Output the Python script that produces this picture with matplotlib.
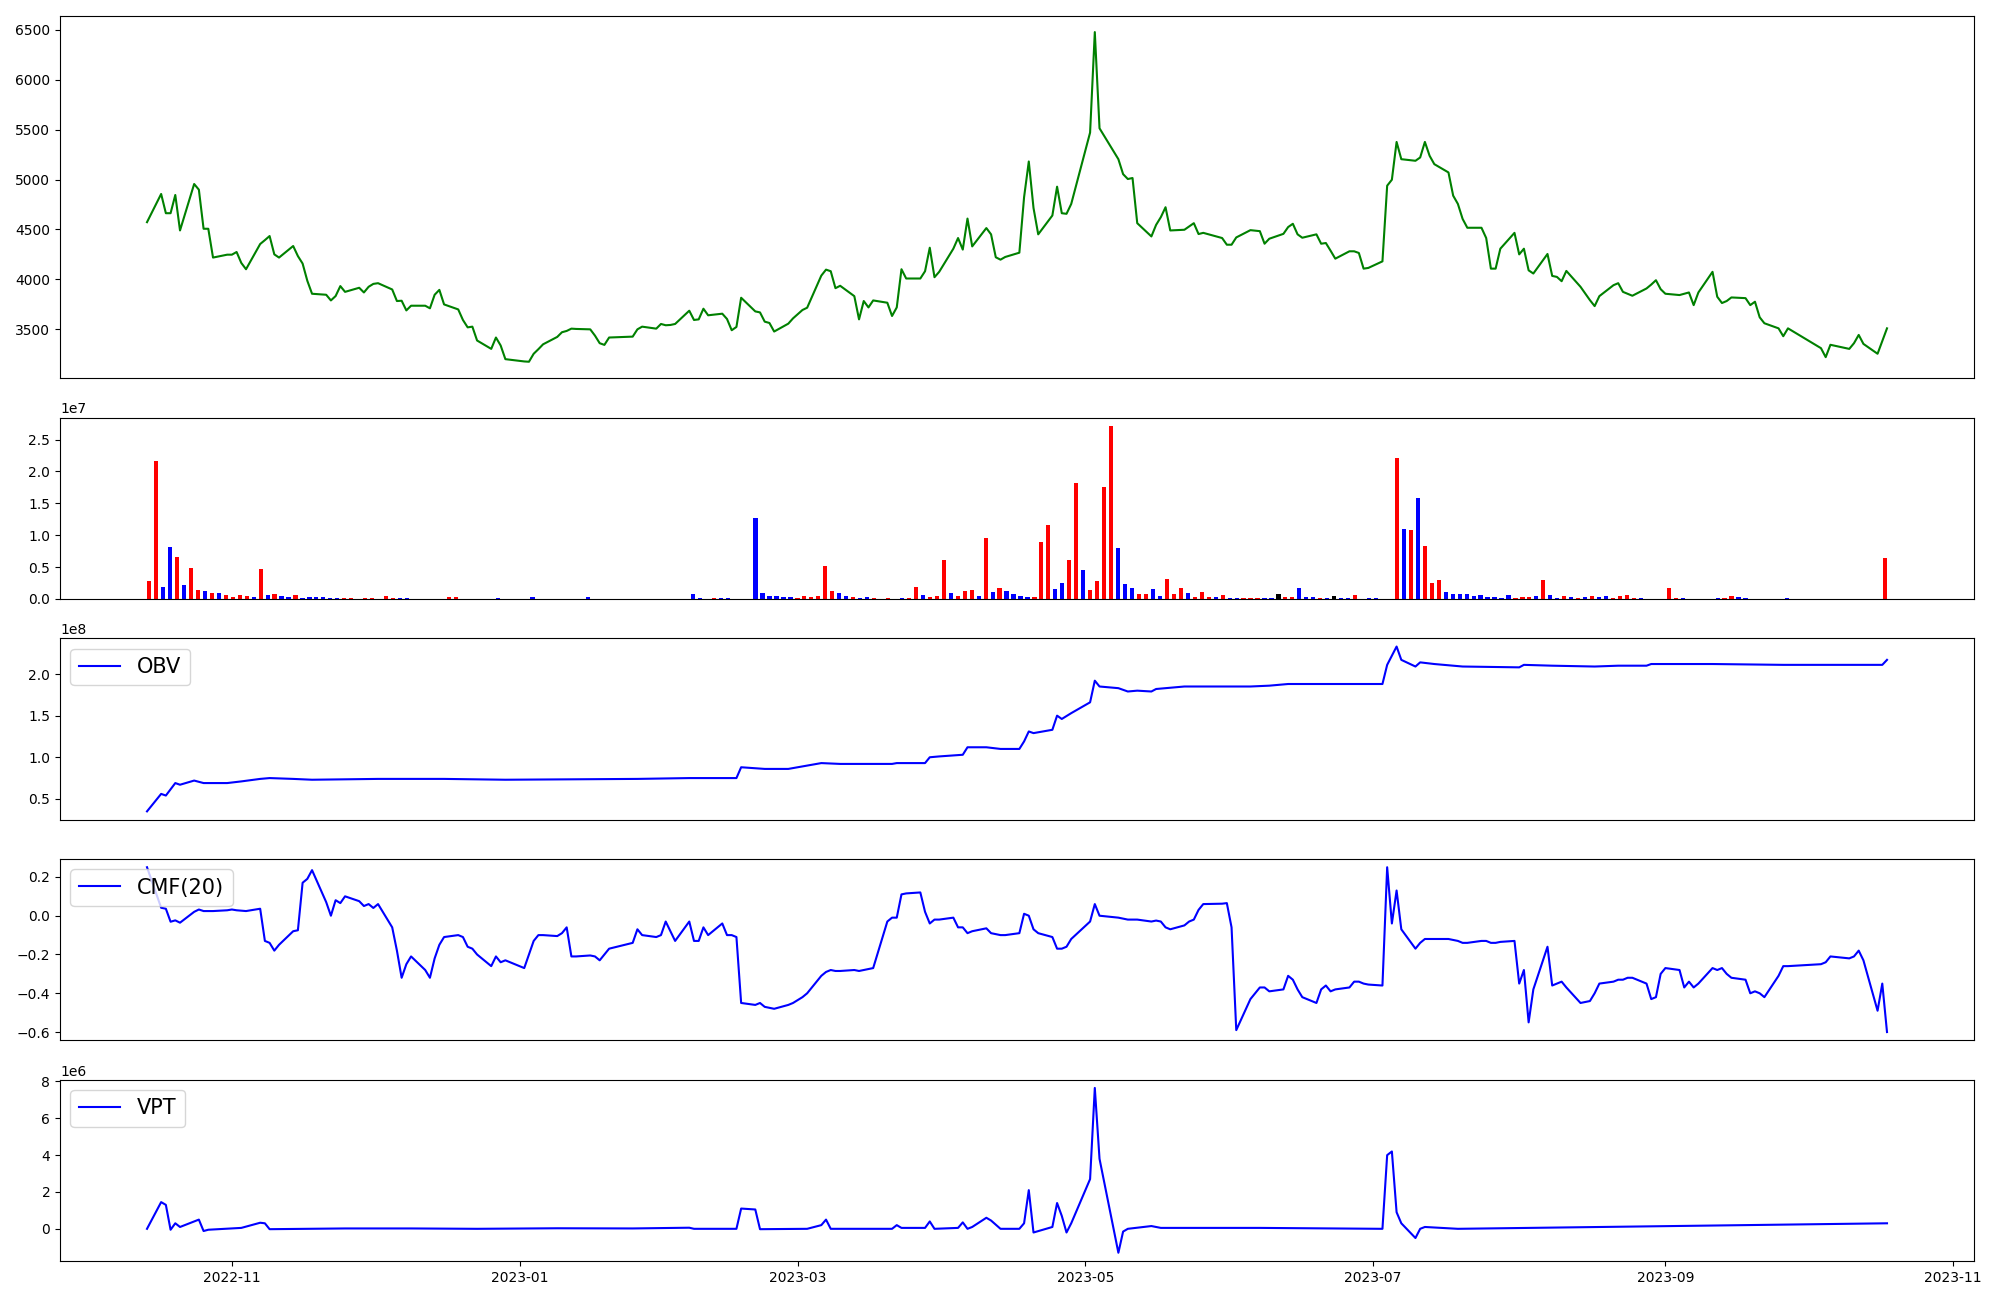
import numpy as np
import pandas as pd
import matplotlib
matplotlib.use('Agg')
import matplotlib.pyplot as plt
import matplotlib.dates as mdates

# 交易日历（去掉休市日）
holidays = ['2022-12-30', '2023-01-23', '2023-01-24', '2023-03-01', '2023-05-01',
            '2023-05-05', '2023-05-29', '2023-06-06', '2023-08-15', '2023-09-28',
            '2023-09-29', '2023-10-02', '2023-10-03', '2023-10-09']
dates = pd.bdate_range('2022-10-14', '2023-10-18')
dates = dates[~dates.isin(pd.to_datetime(holidays))]

close = [
    4572, 4855, 4662, 4662, 4845, 4489, 4955, 4898, 4506, 4506,
    4217, 4246, 4246, 4273, 4163, 4100, 4353, 4392, 4433, 4249,
    4217, 4333, 4232, 4157, 3984, 3854, 3844, 3787, 3831, 3931,
    3873, 3914, 3867, 3924, 3953, 3960, 3897, 3781, 3784, 3687,
    3734, 3734, 3708, 3844, 3893, 3747, 3697, 3591, 3517, 3524,
    3385, 3301, 3415, 3335, 3198, 3175, 3172, 3252, 3298, 3347,
    3421, 3468, 3481, 3504, 3501, 3497, 3434, 3358, 3341, 3415,
    3424, 3497, 3524, 3504, 3551, 3538, 3541, 3551, 3684, 3591,
    3597, 3704, 3638, 3654, 3601, 3488, 3521, 3814, 3677, 3667,
    3574, 3561, 3475, 3554, 3607, 3691, 3714, 4036, 4096, 4080,
    3910, 3934, 3830, 3597, 3781, 3717, 3787, 3764, 3631, 3717,
    4100, 4007, 4007, 4080, 4316, 4020, 4074, 4306, 4413, 4297,
    4608, 4329, 4513, 4450, 4220, 4196, 4223, 4266, 4822, 5181,
    4715, 4450, 4639, 4928, 4662, 4656, 4755, 5471, 6479, 5514,
    5204, 5054, 5005, 5015, 4562, 4429, 4545, 4622, 4722, 4489,
    4496, 4529, 4562, 4453, 4465, 4413, 4346, 4346, 4419, 4492,
    4482, 4356, 4406, 4455, 4523, 4556, 4450, 4416, 4450, 4356,
    4363, 4286, 4206, 4280, 4280, 4263, 4106, 4113, 4179, 4938,
    4998, 5377, 5204, 5188, 5221, 5377, 5238, 5154, 5071, 4838,
    4755, 4605, 4516, 4516, 4413, 4106, 4106, 4306, 4465, 4249,
    4306, 4089, 4057, 4253, 4033, 4023, 3980, 4083, 3924, 3790,
    3730, 3830, 3940, 3960, 3873, 3854, 3834, 3907, 3946, 3990,
    3900, 3854, 3841, 3854, 3867, 3740, 3867, 4074, 3824, 3761,
    3781, 3817, 3810, 3740, 3774, 3618, 3558, 3507, 3428, 3507,
    3308, 3218, 3342, 3301, 3358, 3441, 3351, 3252, 3381, 3507,
]

# 成交量（百万）
volume_m = [
    2.8, 21.6, 1.9, 8.2, 6.6, 2.2, 4.8, 1.4, 1.3, 0.95,
    0.95, 0.63, 0.3, 0.63, 0.47, 0.3, 4.7, 0.63, 0.8, 0.47,
    0.3, 0.63, 0.16, 0.3, 0.3, 0.3, 0.16, 0.16, 0.16, 0.16,
    0.03, 0.16, 0.16, 0.03, 0.47, 0.16, 0.16, 0.16, 0.02, 0.02,
    0.02, 0.02, 0.02, 0.3, 0.3, 0.02, 0.02, 0.02, 0.02, 0.02,
    0.16, 0.02, 0.02, 0.02, 0.02, 0.3, 0.02, 0.02, 0.02, 0.02,
    0.02, 0.02, 0.02, 0.3, 0.02, 0.02, 0.02, 0.02, 0.02, 0.02,
    0.02, 0.02, 0.02, 0.02, 0.02, 0.02, 0.02, 0.02, 0.8, 0.16,
    0.02, 0.16, 0.16, 0.16, 0.02, 0.02, 0.02, 12.7, 0.95, 0.47,
    0.47, 0.3, 0.3, 0.16, 0.47, 0.3, 0.47, 5.2, 1.25, 0.95,
    0.47, 0.3, 0.16, 0.3, 0.16, 0.02, 0.16, 0.02, 0.16, 0.16,
    1.88, 0.63, 0.3, 0.47, 6.1, 0.95, 0.47, 1.25, 1.4, 0.47,
    9.6, 1.1, 1.7, 1.25, 0.8, 0.47, 0.3, 0.3, 8.9, 11.6,
    1.57, 2.5, 6.1, 18.2, 4.5, 1.4, 2.8, 17.6, 27.1, 8.0,
    2.35, 1.7, 0.8, 0.8, 1.57, 0.47, 3.1, 0.8, 1.7, 0.95,
    0.3, 1.1, 0.3, 0.3, 0.63, 0.16, 0.16, 0.16, 0.16, 0.16,
    0.16, 0.16, 0.8, 0.3, 0.3, 1.7, 0.3, 0.3, 0.16, 0.16,
    0.47, 0.16, 0.16, 0.63, 0.02, 0.16, 0.16, 0.02, 0.02, 22.1,
    11.0, 10.8, 15.8, 8.3, 2.5, 3.0, 1.1, 0.8, 0.8, 0.8,
    0.47, 0.63, 0.3, 0.3, 0.16, 0.63, 0.16, 0.3, 0.3, 0.47,
    3.0, 0.63, 0.16, 0.47, 0.3, 0.16, 0.3, 0.47, 0.3, 0.47,
    0.16, 0.47, 0.63, 0.16, 0.16, 0.02, 0.02, 0.02, 1.7, 0.16,
    0.16, 0.02, 0.02, 0.02, 0.02, 0.16, 0.16, 0.47, 0.3, 0.16,
    0.02, 0.02, 0.02, 0.02, 0.02, 0.16, 0.02, 0.02, 0.02, 0.02,
    0.02, 0.02, 0.02, 0.02, 0.02, 0.02, 0.02, 0.02, 0.02, 6.4,
]

# r=涨 b=跌 k=平
volume_side = (
    'rrbbrbrrbr' 'brrrrbrbrb' 'brbbbbbbrr' 'rrrrrrbbrb' 'rbrrrbbbbb'
    'bbbbbbbbbb' 'bbbbbbbbbb' 'bbbbbbbbbb' 'brbbbbbbbb' 'bbbrrrrrrb'
    'brbbrrrbbr' 'rbrrrbrrrb' 'rbrbbbbrrr' 'bbrrbrrrrb' 'bbrrbbrrrb'
    'rrrbrbbrrr' 'bbkrrbbbrb' 'kbbrrbbbbr' 'brbrrrbbbb' 'bbbbbbrrrb'
    'rbbrbrbrbb' 'rrrrbbbbrr' 'bbbbbbrrbb' 'bbbbbbbbbb' 'bbbbbbbbbr'
)

cmf = [
    0.25, 0.041, 0.036, -0.031, -0.024, -0.036, 0.02, 0.032, 0.024, 0.024,
    0.024, 0.028, 0.032, 0.028, 0.026, 0.024, 0.036, -0.13, -0.14, -0.18,
    -0.15, -0.08, -0.075, 0.17, 0.19, 0.235, 0.07, 0.0, 0.08, 0.065,
    0.1, 0.075, 0.05, 0.06, 0.04, 0.06, -0.06, -0.18, -0.32, -0.25,
    -0.21, -0.28, -0.32, -0.22, -0.15, -0.11, -0.10, -0.11, -0.16, -0.17,
    -0.20, -0.26, -0.21, -0.24, -0.23, -0.27, -0.20, -0.13, -0.10, -0.10,
    -0.105, -0.09, -0.06, -0.21, -0.21, -0.205, -0.21, -0.23, -0.20, -0.17,
    -0.14, -0.07, -0.10, -0.11, -0.10, -0.03, -0.08, -0.13, -0.03, -0.13,
    -0.13, -0.06, -0.10, -0.04, -0.10, -0.10, -0.11, -0.45, -0.46, -0.45,
    -0.47, -0.475, -0.48, -0.46, -0.45, -0.42, -0.40, -0.31, -0.29, -0.28,
    -0.285, -0.285, -0.28, -0.285, -0.28, -0.275, -0.27, -0.03, -0.01, -0.01,
    0.11, 0.115, 0.12, 0.02, -0.04, -0.02, -0.02, -0.01, -0.06, -0.06,
    -0.09, -0.08, -0.065, -0.09, -0.095, -0.10, -0.10, -0.09, 0.01, 0.0,
    -0.07, -0.09, -0.11, -0.17, -0.17, -0.16, -0.12, -0.03, 0.06, 0.0,
    -0.01, -0.015, -0.02, -0.02, -0.02, -0.03, -0.025, -0.03, -0.06, -0.07,
    -0.05, -0.03, -0.02, 0.03, 0.06, 0.062, 0.065, -0.06, -0.59, -0.43,
    -0.37, -0.37, -0.39, -0.38, -0.31, -0.33, -0.38, -0.42, -0.45, -0.38,
    -0.36, -0.39, -0.38, -0.37, -0.34, -0.34, -0.35, -0.355, -0.36, 0.25,
    -0.04, 0.13, -0.07, -0.17, -0.14, -0.12, -0.12, -0.12, -0.12, -0.125,
    -0.13, -0.14, -0.14, -0.13, -0.13, -0.14, -0.14, -0.135, -0.13, -0.35,
    -0.28, -0.55, -0.38, -0.16, -0.36, -0.35, -0.34, -0.37, -0.45, -0.44,
    -0.40, -0.35, -0.34, -0.33, -0.33, -0.32, -0.32, -0.35, -0.43, -0.42,
    -0.30, -0.27, -0.28, -0.37, -0.34, -0.37, -0.35, -0.27, -0.28, -0.27,
    -0.30, -0.32, -0.33, -0.40, -0.39, -0.40, -0.42, -0.31, -0.26, -0.26,
    -0.25, -0.24, -0.21, -0.22, -0.21, -0.18, -0.23, -0.49, -0.35, -0.60,
]

# 指标：(交易日序号, 数值)
obv_idx = [0, 1, 2, 4, 5, 6, 8, 11, 14, 16, 18, 21, 25, 35, 45, 54, 71, 78, 86, 87,
           90, 93, 97, 101, 108, 109, 113, 114, 116, 119, 120, 122, 125, 127, 128, 129,
           130, 132, 133, 134, 136, 137, 138, 139, 140, 142, 144, 145, 146, 148, 150,
           154, 159, 162, 164, 170, 178, 179, 180, 181, 182, 183, 184, 187, 191, 199,
           200, 204, 210, 213, 217, 218, 227, 238, 248, 249]
obv_e8 = [0.35, 0.56, 0.54, 0.69, 0.67, 0.72, 0.69, 0.69, 0.71, 0.74, 0.75, 0.74, 0.73,
          0.74, 0.74, 0.73, 0.74, 0.75, 0.75, 0.88, 0.86, 0.86, 0.93, 0.92, 0.92, 0.93,
          0.93, 1.00, 1.01, 1.03, 1.12, 1.12, 1.10, 1.10, 1.19, 1.31, 1.29, 1.33, 1.50,
          1.46, 1.53, 1.66, 1.92, 1.85, 1.83, 1.79, 1.80, 1.79, 1.82, 1.83, 1.85, 1.85,
          1.85, 1.86, 1.88, 1.88, 1.88, 2.11, 2.22, 2.33, 2.17, 2.09, 2.14, 2.12, 2.09,
          2.08, 2.11, 2.10, 2.09, 2.10, 2.10, 2.12, 2.12, 2.11, 2.11, 2.17]

vpt_idx = [0, 1, 2, 3, 4, 5, 7, 8, 9, 14, 16, 17, 18, 30, 40, 50, 60, 70, 78, 79, 86,
           87, 88, 89, 96, 97, 98, 99, 108, 109, 110, 113, 114, 115, 118, 119, 120, 121,
           122, 123, 125, 127, 128, 129, 130, 132, 133, 134, 135, 136, 137, 138, 139,
           140, 141, 142, 145, 147, 160, 178, 179, 180, 181, 182, 183, 184, 185, 190,
           249]
vpt_e6 = [0.0, 1.45, 1.3, -0.05, 0.3, 0.1, 0.5, -0.12, -0.05, 0.05, 0.33, 0.3, -0.02,
          0.02, 0.02, 0.0, 0.03, 0.02, 0.06, 0.0, 0.0, 1.1, 1.05, -0.02, 0.0, 0.2, 0.5,
          0.0, 0.0, 0.2, 0.05, 0.05, 0.4, 0.0, 0.05, 0.35, 0.0, 0.1, 0.6, 0.45, 0.0,
          0.0, 0.3, 2.1, -0.2, 0.1, 1.4, 0.7, -0.2, 0.3, 2.7, 7.65, 3.8, -1.3, -0.15,
          0.0, 0.15, 0.05, 0.05, 0.0, 4.0, 4.2, 0.9, 0.3, -0.5, 0.0, 0.1, 0.0, 0.3]

side_color = {'r': 'red', 'b': 'blue', 'k': 'black'}

fig = plt.figure(figsize=(20, 13), dpi=100)
gs = fig.add_gridspec(5, 1, height_ratios=[2, 1, 1, 1, 1], left=0.030, right=0.987,
                      top=0.988, bottom=0.030, hspace=0.181)
axs = [fig.add_subplot(gs[i]) for i in range(5)]

# 收盘价
axs[0].plot(dates, close, color='green', linewidth=1.5)
axs[0].set_xticks([])

# 成交量
x = np.arange(len(volume_m))
axs[1].bar(x, np.array(volume_m) * 1e6, width=0.6,
           color=[side_color[s] for s in volume_side])
axs[1].set_xticks([])

# OBV
axs[2].plot(dates[obv_idx], np.array(obv_e8) * 1e8, color='blue', label='OBV')
axs[2].legend(loc='upper left', fontsize=15)
axs[2].set_xticks([])

# CMF
axs[3].plot(dates, cmf, color='blue', label='CMF(20)')
axs[3].legend(loc='upper left', fontsize=15)
axs[3].set_xticks([])

# VPT
axs[4].plot(dates[vpt_idx], np.array(vpt_e6) * 1e6, color='blue', label='VPT')
axs[4].legend(loc='upper left', fontsize=15)
axs[4].xaxis.set_major_locator(mdates.MonthLocator(bymonth=[1, 3, 5, 7, 9, 11]))
axs[4].xaxis.set_major_formatter(mdates.DateFormatter('%Y-%m'))

for ax in [axs[0], axs[2], axs[3]]:
    ax.set_xlim(axs[4].get_xlim())

fig.savefig('out.png')
